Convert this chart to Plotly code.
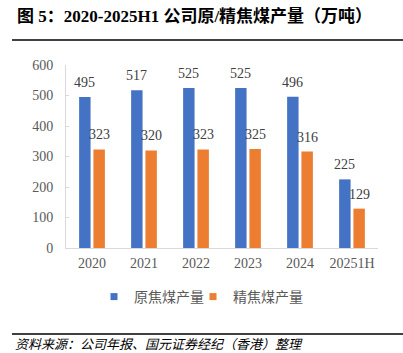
import plotly.graph_objects as go

categories = ["2020", "2021", "2022", "2023", "2024", "20251H"]
raw_coking = [495, 517, 525, 525, 496, 225]
clean_coking = [323, 320, 323, 325, 316, 129]
series_names = ["原焦煤产量", "精焦煤产量"]
y_ticks = [0, 100, 200, 300, 400, 500, 600]
colors = ["#4472C4", "#ED7D31"]

W, H = 403, 353
L, R, T, B = 66, 378, 65, 248
pw, ph = R - L, B - T

def px(x):
    return (x - L) / pw

def py(y):
    return (B - y) / ph

serif = "Liberation Serif, Times New Roman, Noto Sans CJK SC"
cjk = "Noto Sans CJK SC, Liberation Serif"

bargap, groupgap = 0.45, 0.2
cat_px = pw / len(categories)
offset_px = cat_px * (1 - bargap) / 4  # center offset of each bar in group

fig = go.Figure()
series = [raw_coking, clean_coking]
legend_widths = [54, 76]
for i, (vals, name, color) in enumerate(zip(series, series_names, colors)):
    fig.add_trace(go.Bar(x=categories, y=vals, name=name, showlegend=False,
                         marker=dict(color=color, line=dict(width=0))))
    # legend entry with a small square symbol
    fig.add_trace(go.Scatter(x=[categories[0]], y=[None], name=name, mode="markers",
                             marker=dict(symbol="square", size=7, color=color),
                             legendwidth=legend_widths[i],
                             showlegend=True, hoverinfo="skip"))
    shift = -offset_px if i == 0 else offset_px
    for idx, v in enumerate(vals):
        # category axes take annotation x as the category's index
        fig.add_annotation(x=idx, y=v, text=str(v), showarrow=False,
                           xanchor="center", yanchor="bottom",
                           xshift=shift, yshift=5,
                           font=dict(family=serif, size=14, color="#404040"))

fig.update_layout(
    width=W, height=H,
    margin=dict(l=L, r=W - R, t=T, b=H - B, pad=0),
    paper_bgcolor="white", plot_bgcolor="white",
    barmode="group", bargap=bargap, bargroupgap=groupgap,
    showlegend=True,
    legend=dict(orientation="h", x=px(94), y=py(297), xanchor="left", yanchor="middle",
                font=dict(family=cjk, size=14, color="#595959"),
                tracegroupgap=0, bgcolor="rgba(0,0,0,0)", borderwidth=0),
    xaxis=dict(type="category", categoryorder="array", categoryarray=categories,
               range=[-0.5, len(categories) - 0.5],
               showgrid=False, showline=True, linecolor="#d9d9d9", linewidth=1,
               ticks="", tickfont=dict(family=serif, size=14, color="#595959"),
               ticklabelstandoff=2, fixedrange=True),
    yaxis=dict(range=[0, 600], tickvals=y_ticks, showgrid=False, showline=True,
               linecolor="#d9d9d9", linewidth=1, ticks="inside", ticklen=3,
               tickcolor="#d9d9d9", zeroline=False,
               tickfont=dict(family=serif, size=14, color="#595959"),
               ticklabelstandoff=9, fixedrange=True),
    font=dict(family=serif),
)

fig.add_annotation(text="<b>图 5：2020-2025H1 公司原/精焦煤产量（万吨）</b>",
                   xref="paper", yref="paper", x=px(15), y=py(16),
                   xanchor="left", yanchor="middle", showarrow=False,
                   font=dict(family=serif, size=17, color="#000000"))
fig.add_annotation(text="<i>资料来源：公司年报、国元证券经纪（香港）整理</i>",
                   xref="paper", yref="paper", x=px(13), y=py(343),
                   xanchor="left", yanchor="middle", showarrow=False,
                   font=dict(family=cjk, size=13, color="#000000"))
fig.add_shape(type="line", xref="paper", yref="paper", x0=px(12), x1=px(403),
              y0=py(40), y1=py(40), line=dict(color="#000000", width=1.5))
fig.add_shape(type="line", xref="paper", yref="paper", x0=px(12), x1=px(403),
              y0=py(334), y1=py(334), line=dict(color="#000000", width=1.5))

fig.write_html("out.html")
